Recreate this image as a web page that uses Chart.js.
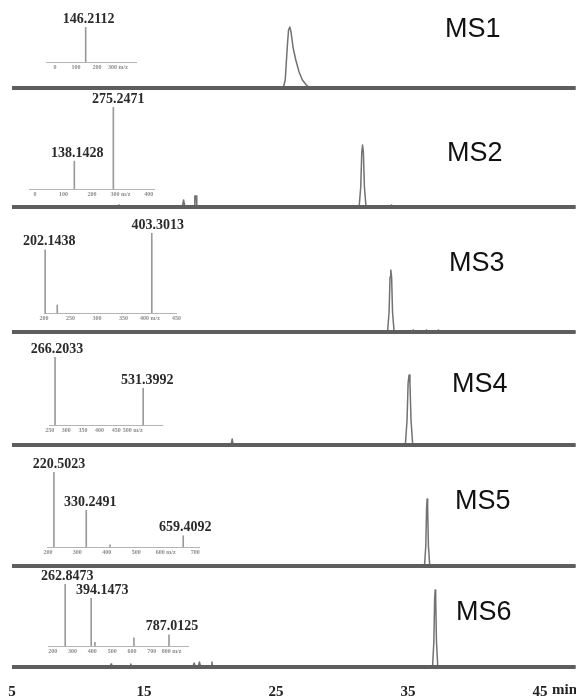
<!DOCTYPE html>
<html>
<head>
<meta charset="utf-8">
<script src="https://cdn.jsdelivr.net/npm/chart.js@4.4.1/dist/chart.umd.min.js"></script>
<style>
  html, body { margin: 0; padding: 0; background: #fff; }
  #wrap { position: relative; width: 576px; height: 699px; overflow: hidden; }
  #wrap canvas { position: absolute; }
  .ms { position: absolute; font-family: 'Liberation Sans', Arial, sans-serif; font-size: 27px; line-height: 1; color: #111; }
  .unit { position: absolute; font-family: 'Liberation Serif', serif; font-weight: bold; font-size: 15px; line-height: 1; color: #222; }
</style>
</head>
<body>
<div id="wrap"></div>
<script>
// ========== DATA ==========
const panelNames = ['MS1', 'MS2', 'MS3', 'MS4', 'MS5', 'MS6'];
const timeTicks = [5, 15, 25, 35, 45];
const runStart = 5;
const runEnd = 47.7;

// chromatograms (time in min, signal)
const ms1Time   = [5, 25.55, 25.7, 25.85, 25.95, 26.05, 26.15, 26.3, 26.5, 26.75, 27.0, 27.3, 27.6, 47.7];
const ms1Signal = [0, 0, 8, 40, 58, 61, 55, 40, 28, 16, 8, 3, 0, 0];
const ms2Time   = [5, 13.0, 13.1, 13.2, 17.9, 18.0, 18.1, 18.8, 18.85, 18.95, 19.0, 31.3, 31.42, 31.5, 31.56, 31.62, 31.7, 31.82, 33.6, 33.75, 33.9, 47.7];
const ms2Signal = [0, 0, 2, 0, 0, 7, 0, 0, 11, 11, 0, 0, 20, 55, 62, 55, 20, 0, 0, 2, 0, 0];
const ms3Time   = [5, 33.45, 33.57, 33.64, 33.70, 33.76, 33.83, 33.95, 35.3, 35.4, 35.5, 36.3, 36.4, 36.5, 37.2, 37.3, 37.4, 47.7];
const ms3Signal = [0, 0, 20, 55, 62, 55, 20, 0, 0, 2, 0, 0, 2, 0, 0, 2, 0, 0];
const ms4Time   = [5, 21.6, 21.68, 21.76, 34.8, 34.93, 35.01, 35.08, 35.15, 35.23, 35.36, 47.7];
const ms4Signal = [0, 0, 6, 0, 0, 25, 62, 70, 62, 25, 0, 0];
const ms5Time   = [5, 36.25, 36.35, 36.41, 36.45, 36.49, 36.55, 36.65, 47.7];
const ms5Signal = [0, 0, 20, 58, 67, 58, 20, 0, 0];
const ms6Time   = [5, 12.45, 12.5, 12.55, 13.95, 14.0, 14.05, 18.7, 18.8, 18.9, 19.1, 19.2, 19.3, 20.1, 20.15, 20.2, 36.86, 36.96, 37.02, 37.06, 37.1, 37.16, 37.26, 47.7];
const ms6Signal = [0, 0, 3, 0, 0, 3, 0, 0, 4, 0, 0, 5, 0, 0, 5, 0, 0, 25, 68, 77, 68, 25, 0, 0];

// inset spectra (m/z, relative intensity, label)
const ms1Mz = [146.2112];
const ms1Int = [100];
const ms1Lbl = ['146.2112'];
const ms1MzTicks = [0, 100, 200, 300];
const ms2Mz = [138.1428, 275.2471];
const ms2Int = [34, 100];
const ms2Lbl = ['138.1428', '275.2471'];
const ms2MzTicks = [0, 100, 200, 300, 400];
const ms3Mz = [202.1438, 225, 403.3013];
const ms3Int = [79, 10, 100];
const ms3Lbl = ['202.1438', '', '403.3013'];
const ms3MzTicks = [200, 250, 300, 350, 400, 450];
const ms4Mz = [266.2033, 531.3992];
const ms4Int = [100, 54];
const ms4Lbl = ['266.2033', '531.3992'];
const ms4MzTicks = [250, 300, 350, 400, 450, 500];
const ms5Mz = [220.5023, 330.2491, 411, 659.4092];
const ms5Int = [100, 49, 3, 15];
const ms5Lbl = ['220.5023', '330.2491', '', '659.4092'];
const ms5MzTicks = [200, 300, 400, 500, 600, 700];
const ms6Mz = [262.8473, 394.1473, 413, 610, 787.0125];
const ms6Int = [100, 77, 6, 13, 18];
const ms6Lbl = ['262.8473', '394.1473', '', '', '787.0125'];
const ms6MzTicks = [200, 300, 400, 500, 600, 700, 800];

const traceTimes  = [ms1Time, ms2Time, ms3Time, ms4Time, ms5Time, ms6Time];
const traceSignal = [ms1Signal, ms2Signal, ms3Signal, ms4Signal, ms5Signal, ms6Signal];
const specMz    = [ms1Mz, ms2Mz, ms3Mz, ms4Mz, ms5Mz, ms6Mz];
const specInt   = [ms1Int, ms2Int, ms3Int, ms4Int, ms5Int, ms6Int];
const specLbl   = [ms1Lbl, ms2Lbl, ms3Lbl, ms4Lbl, ms5Lbl, ms6Lbl];
const specTicks = [ms1MzTicks, ms2MzTicks, ms3MzTicks, ms4MzTicks, ms5MzTicks, ms6MzTicks];

// ========== LAYOUT ==========
const panelBase = [88, 207, 332, 445, 566, 667];
const nameAt = [[445, 15], [447, 139], [449, 249], [452, 370], [455, 487], [456, 598]];
const insetLayout = [
  { x0: 46, x1: 136, axisY: 62,  top: 27,  min: -43, max: 386, unitAfter: 300, dx: [3] },
  { x0: 29, x1: 154, axisY: 189, top: 107, min: -21, max: 418, unitAfter: 300, dx: [3, 5] },
  { x0: 44, x1: 176, axisY: 313, top: 233, min: 200, max: 449, unitAfter: 400, dx: [4, 0, 6] },
  { x0: 49, x1: 162, axisY: 425, top: 357, min: 248, max: 588, unitAfter: 500, dx: [2, 4] },
  { x0: 47, x1: 199, axisY: 547, top: 472, min: 197, max: 713, unitAfter: 600, dx: [5, 4, 0, 2] },
  { x0: 48, x1: 188, axisY: 646, top: 584, min: 176, max: 883, unitAfter: 800, dx: [2, 11, 0, 0, 3] }
];
const serif = '"Liberation Serif", "Times New Roman", serif';
const wrap = document.getElementById('wrap');

function makeCanvas(left, top, w, h) {
  const c = document.createElement('canvas');
  c.width = w; c.height = h;
  c.style.left = left + 'px'; c.style.top = top + 'px';
  c.style.width = w + 'px'; c.style.height = h + 'px';
  wrap.appendChild(c);
  return c;
}

// labels over the sticks of the spectra
const stickLabels = {
  id: 'stickLabels',
  afterDatasetsDraw(chart) {
    const { labels, dx } = chart.options.plugins.stickLabels;
    const ctx = chart.ctx;
    ctx.save();
    ctx.font = 'bold 14px ' + serif;
    ctx.fillStyle = '#2a2a2a';
    ctx.textAlign = 'center';
    ctx.textBaseline = 'bottom';
    chart.getDatasetMeta(0).data.forEach((bar, k) => {
      if (labels[k]) ctx.fillText(labels[k], bar.x + dx[k], bar.y - 1);
    });
    ctx.restore();
  }
};

// ========== CHROMATOGRAMS ==========
function drawPanel(i) {
  const last = i === panelNames.length - 1;
  const top = panelBase[i] - 104;
  const h = last ? 699 - top : 110;
  const canvas = makeCanvas(0, top, 576, h);
  const times = traceTimes[i], sig = traceSignal[i];

  const xScale = {
    type: 'linear', min: 4.09, max: 47.73, display: last,
    grid: { display: false, drawTicks: true, tickLength: 16 }, border: { display: false },
    afterBuildTicks: ax => { ax.ticks = timeTicks.map(v => ({ value: v })); },
    ticks: { padding: 0, color: '#222', maxRotation: 0, autoSkip: false,
             font: { family: serif, weight: 'bold', size: 15 } }
  };
  if (last) xScale.afterFit = ax => { ax.height = 32; };

  new Chart(canvas.getContext('2d'), {
    type: 'line',
    data: {
      datasets: [
        { data: [{ x: runStart, y: 0 }, { x: runEnd, y: 0 }], borderColor: '#5e5e5e', borderWidth: 4, pointRadius: 0, clip: false },
        { data: times.map((t, k) => ({ x: t, y: sig[k] })), borderColor: '#727272', borderWidth: 1.5,
          borderJoinStyle: 'round', pointRadius: 0, clip: false }
      ]
    },
    options: {
      responsive: false, animation: false, devicePixelRatio: 1,
      layout: { padding: { top: 4, bottom: last ? 0 : 6, left: 0, right: 0 } },
      plugins: { legend: { display: false }, tooltip: { enabled: false } },
      scales: { x: xScale, y: { display: false, min: 0, max: 100 } }
    }
  });

  const lbl = document.createElement('div');
  lbl.className = 'ms';
  lbl.textContent = panelNames[i];
  lbl.style.left = nameAt[i][0] + 'px';
  lbl.style.top = nameAt[i][1] + 'px';
  wrap.appendChild(lbl);
}

// ========== INSET SPECTRA ==========
function drawInset(i) {
  const s = insetLayout[i];
  const padX = 34, padTop = 22, axisH = 10;
  const canvas = makeCanvas(s.x0 - padX, s.top - padTop, s.x1 - s.x0 + 2 * padX, padTop + (s.axisY - s.top) + axisH);
  const mz = specMz[i], inten = specInt[i];

  new Chart(canvas.getContext('2d'), {
    type: 'bar',
    data: { datasets: [{ data: mz.map((m, k) => ({ x: m, y: inten[k] })), backgroundColor: '#9a9a9a', barThickness: 1 }] },
    options: {
      responsive: false, animation: false, devicePixelRatio: 1,
      layout: { padding: { top: padTop, left: padX, right: padX, bottom: 0 } },
      plugins: { legend: { display: false }, tooltip: { enabled: false }, stickLabels: { labels: specLbl[i], dx: s.dx } },
      scales: {
        x: {
          type: 'linear', min: s.min, max: s.max, offset: false,
          grid: { display: false, drawTicks: false }, border: { color: '#b4b4b4', width: 1 },
          afterBuildTicks: ax => { ax.ticks = specTicks[i].map(v => ({ value: v })); },
          afterFit: ax => { ax.height = axisH; },
          ticks: { padding: 2, color: '#8c8c8c', maxRotation: 0, autoSkip: false,
                   font: { family: serif, weight: 'bold', size: 6 },
                   callback: v => v === s.unitAfter ? v + ' m/z' : v }
        },
        y: { display: false, min: 0, max: 100 }
      }
    },
    plugins: [stickLabels]
  });
}

// ========== START ==========
document.addEventListener('DOMContentLoaded', () => {
  panelNames.forEach((n, i) => { drawPanel(i); drawInset(i); });
  const unit = document.createElement('div');
  unit.className = 'unit';
  unit.textContent = 'min';
  unit.style.left = '552px';
  unit.style.top = '682px';
  wrap.appendChild(unit);
});
</script>
</body>
</html>
